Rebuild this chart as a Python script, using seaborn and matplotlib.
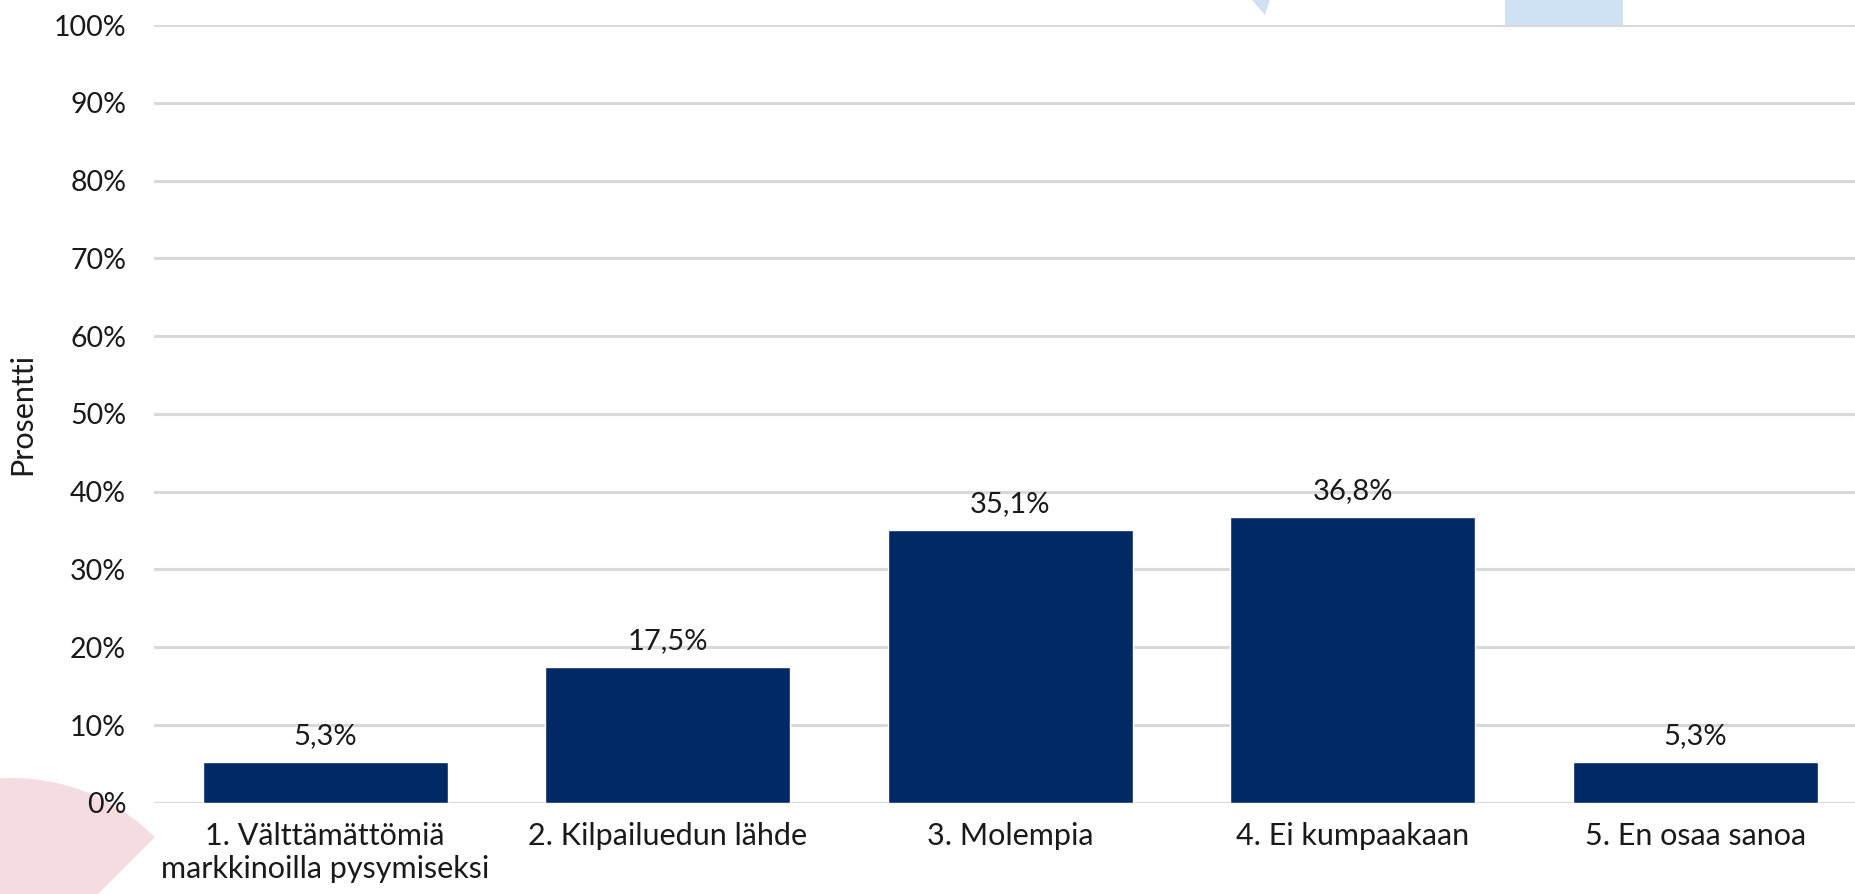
import matplotlib
matplotlib.use("Agg")
import matplotlib.pyplot as plt
import seaborn as sns
from matplotlib.patches import Wedge, Polygon, Rectangle

# Chart data
categories = [
    "1. Välttämättömiä\nmarkkinoilla pysymiseksi",
    "2. Kilpailuedun lähde",
    "3. Molempia",
    "4. Ei kumpaakaan",
    "5. En osaa sanoa",
]
values = [5.3, 17.5, 35.1, 36.8, 5.3]
y_ticks = [0, 10, 20, 30, 40, 50, 60, 70, 80, 90, 100]

sns.set_theme(style="white")
plt.rcParams["font.family"] = ["Lato", "DejaVu Sans"]

fig = plt.figure(figsize=(18.55, 8.94), dpi=100)
ax = fig.add_axes([0.083, 0.102, 0.917, 0.870])
ax.set_facecolor("none")

sns.barplot(x=categories, y=values, color="#012965", saturation=1,
            width=0.715, ax=ax, zorder=3)

# Gridlines
ax.set_ylim(0, 100)
ax.set_yticks(y_ticks)
ax.set_yticklabels([f"{t}%" for t in y_ticks])
ax.yaxis.grid(True, color="#D9D9D9", linewidth=2.2, zorder=0)
ax.set_axisbelow(True)
ax.set_xlim(-0.5, 4.466)
for s in ax.spines.values():
    s.set_visible(False)

ax.tick_params(axis="both", length=0, colors="#1a1a1a")
ax.tick_params(axis="y", pad=20, labelsize=20.5)
ax.tick_params(axis="x", pad=14, labelsize=22)
ax.set_ylabel("Prosentti", fontsize=22, color="#1a1a1a")
ax.yaxis.set_label_coords(-0.069, 0.5)
ax.set_xlabel("")

ax.bar_label(ax.containers[0],
             labels=[f"{v:.1f}%".replace(".", ",") for v in values],
             padding=9, fontsize=21, color="#1a1a1a")

# decorative background shapes
deco = dict(transform=fig.dpi_scale_trans, zorder=-1, linewidth=0)
fig.patches.append(Wedge((0.12, -0.86), 2.02, 45, 200, facecolor="#F4DCE1", **deco))
fig.patches.append(Polygon([(12.38, 9.1), (12.75, 9.1), (12.65, 8.79)],
                           closed=True, facecolor="#CFE2F3", **deco))
fig.patches.append(Rectangle((15.05, 8.69), 1.18, 0.4, facecolor="#CFE2F3", **deco))

fig.savefig("out.png", dpi=100)
